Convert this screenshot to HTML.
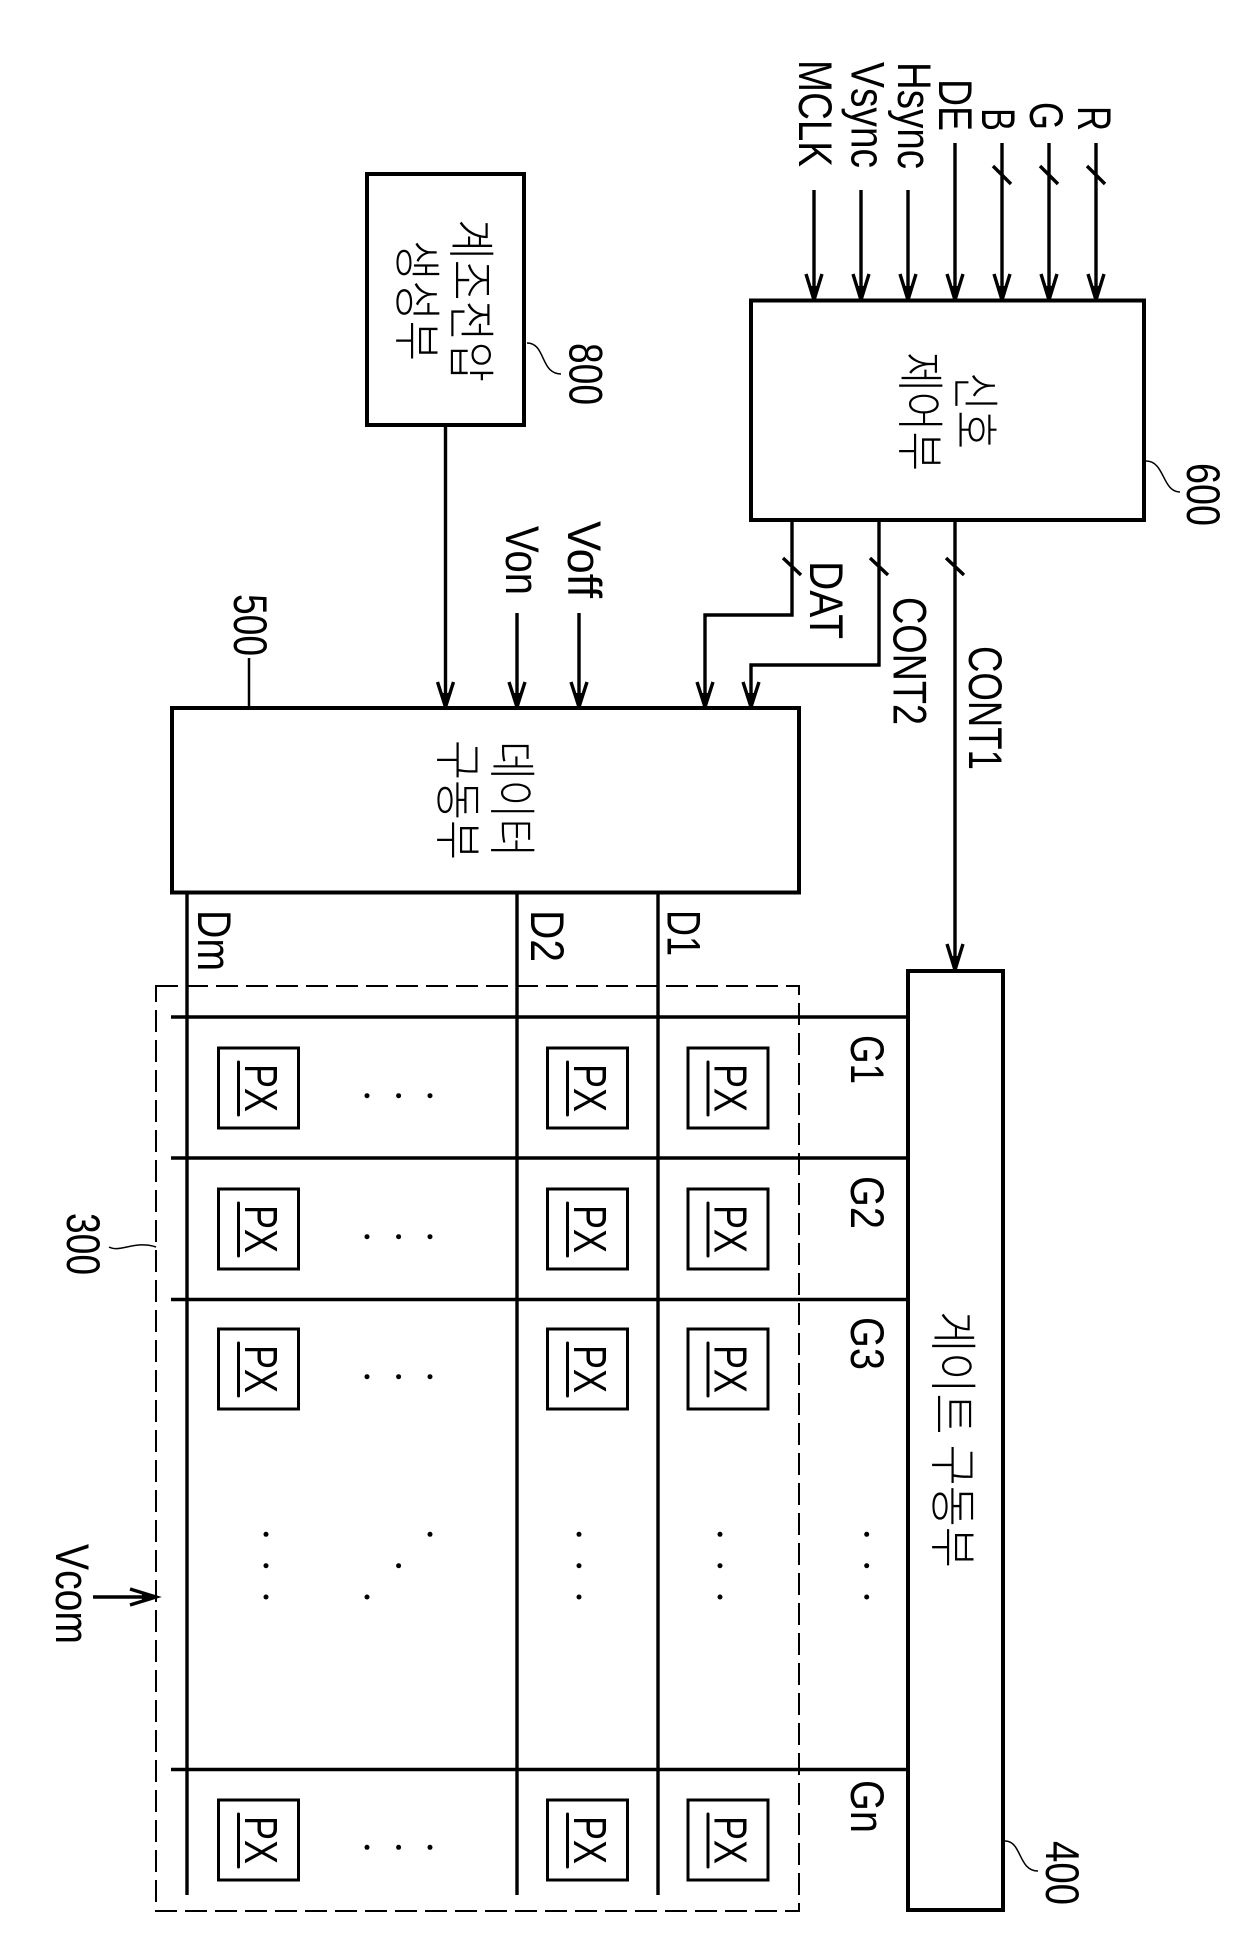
<!DOCTYPE html>
<html><head><meta charset="utf-8"><style>
html,body{margin:0;padding:0;background:#fff}
svg{display:block}
text{font-family:"Liberation Sans","Noto Sans CJK KR",sans-serif;fill:#000}
.k{font-family:"Noto Sans CJK KR","NanumGothic",sans-serif;font-size:48px;font-weight:300}
.l{font-size:47px}
.p{font-size:46px}
</style></head><body>
<svg xmlns="http://www.w3.org/2000/svg" width="1240" height="1958" viewBox="0 0 1240 1958">
<rect width="1240" height="1958" fill="#fff"/>
<g fill="none" stroke="#000" stroke-width="3.400">
<!-- input arrows -->
<path d="M814 190V300M806 274L814 300L822 274"/>
<path d="M861 190V300M853 274L861 300L869 274"/>
<path d="M908 190V300M900 274L908 300L916 274"/>
<path d="M955 143V300M947 274L955 300L963 274"/>
<path d="M1002 143V300M994 274L1002 300L1010 274M993 166L1011 184"/>
<path d="M1049 143V300M1041 274L1049 300L1057 274M1040 166L1058 184"/>
<path d="M1096 143V300M1088 274L1096 300L1104 274M1087 166L1105 184"/>
<!-- outputs of 600 -->
<path d="M792 520V615H705V707M697 682L705 707L713 682M783 558L801 575"/>
<path d="M879 520V665H751V707M743 682L751 707L759 682M870 558L888 575"/>
<path d="M955 520V970M947 944L955 970L963 944M946 558L964 575"/>
<!-- inputs of 500 -->
<path d="M445.500 425V707M437.500 682L445.500 707L453.500 682"/>
<path d="M517 613V707M509 682L517 707L525 682"/>
<path d="M579 613V707M571 682L579 707L587 682"/>
<path d="M249 658V707" stroke-width="2.500"/>
<!-- data lines -->
<path d="M187 892V1895M517 892V1895M658 892V1895"/>
<!-- gate lines -->
<path d="M171 1017H908M171 1158H908M171 1299.500H908M171 1769.500H908"/>
<!-- Vcom -->
<path d="M93 1597H156M130 1589L156 1597L130 1605"/>
<!-- dashed -->
<rect x="156" y="986" width="643" height="925" stroke-width="2" stroke-dasharray="22 8"/>
<!-- leaders -->
<path d="M1146 461C1165 461 1162 492 1180 492" stroke-width="1.500"/>
<path d="M527 343C546 343 540 374 561 374" stroke-width="1.500"/>
<path d="M1005 1841C1022 1841 1018 1871 1038 1871" stroke-width="1.500"/>
<path d="M109 1247C120 1253 135 1240 156 1247" stroke-width="1.500"/>
</g>
<g fill="#000" stroke="none">
<path d="M814 300L810 286H818ZM861 300L857 286H865ZM908 300L904 286H912ZM955 300L951 286H959ZM1002 300L998 286H1006ZM1049 300L1045 286H1053ZM1096 300L1092 286H1100Z"/>
<path d="M705 707L701 693H709ZM751 707L747 693H755ZM955 970L951 956H959ZM445.500 707L441.500 693H449.500ZM517 707L513 693H521ZM579 707L575 693H583Z"/>
<path d="M156 1597L142 1593V1601Z"/>
</g>
<g fill="#fff" stroke="#000" stroke-width="4">
<rect x="751" y="300.500" width="393" height="219.500"/>
<rect x="367" y="174" width="157" height="251"/>
<rect x="172" y="708" width="627" height="184.500"/>
<rect x="908" y="971" width="95" height="939"/>
</g>
<!-- PX cells -->
<g fill="none" stroke="#000" stroke-width="3">
<rect x="218.500" y="1048" width="80" height="80"/><rect x="547.500" y="1048" width="80" height="80"/><rect x="688" y="1048" width="80" height="80"/>
<rect x="218.500" y="1189" width="80" height="80"/><rect x="547.500" y="1189" width="80" height="80"/><rect x="688" y="1189" width="80" height="80"/>
<rect x="218.500" y="1329" width="80" height="80"/><rect x="547.500" y="1329" width="80" height="80"/><rect x="688" y="1329" width="80" height="80"/>
<rect x="218.500" y="1800" width="80" height="80"/><rect x="547.500" y="1800" width="80" height="80"/><rect x="688" y="1800" width="80" height="80"/>
<path d="M238.500 1062V1115M567.500 1062V1115M708 1062V1115M238.500 1203V1256M567.500 1203V1256M708 1203V1256M238.500 1343V1396M567.500 1343V1396M708 1343V1396M238.500 1814V1867M567.500 1814V1867M708 1814V1867" stroke-linecap="round"/>
</g>
<text class="p" transform="translate(245,1064) rotate(90)" textLength="48" lengthAdjust="spacingAndGlyphs">PX</text>
<text class="p" transform="translate(574,1064) rotate(90)" textLength="48" lengthAdjust="spacingAndGlyphs">PX</text>
<text class="p" transform="translate(714.500,1064) rotate(90)" textLength="48" lengthAdjust="spacingAndGlyphs">PX</text>
<text class="p" transform="translate(245,1205) rotate(90)" textLength="48" lengthAdjust="spacingAndGlyphs">PX</text>
<text class="p" transform="translate(574,1205) rotate(90)" textLength="48" lengthAdjust="spacingAndGlyphs">PX</text>
<text class="p" transform="translate(714.500,1205) rotate(90)" textLength="48" lengthAdjust="spacingAndGlyphs">PX</text>
<text class="p" transform="translate(245,1345) rotate(90)" textLength="48" lengthAdjust="spacingAndGlyphs">PX</text>
<text class="p" transform="translate(574,1345) rotate(90)" textLength="48" lengthAdjust="spacingAndGlyphs">PX</text>
<text class="p" transform="translate(714.500,1345) rotate(90)" textLength="48" lengthAdjust="spacingAndGlyphs">PX</text>
<text class="p" transform="translate(245,1816) rotate(90)" textLength="48" lengthAdjust="spacingAndGlyphs">PX</text>
<text class="p" transform="translate(574,1816) rotate(90)" textLength="48" lengthAdjust="spacingAndGlyphs">PX</text>
<text class="p" transform="translate(714.500,1816) rotate(90)" textLength="48" lengthAdjust="spacingAndGlyphs">PX</text>
<!-- dots -->
<g fill="#000">
<circle cx="367" cy="1095.700" r="2.500"/><circle cx="398.600" cy="1095.700" r="2.500"/><circle cx="430" cy="1095.700" r="2.500"/>
<circle cx="367" cy="1236.700" r="2.500"/><circle cx="398.600" cy="1236.700" r="2.500"/><circle cx="430" cy="1236.700" r="2.500"/>
<circle cx="367" cy="1376.700" r="2.500"/><circle cx="398.600" cy="1376.700" r="2.500"/><circle cx="430" cy="1376.700" r="2.500"/>
<circle cx="367" cy="1847.300" r="2.500"/><circle cx="398.600" cy="1847.300" r="2.500"/><circle cx="430" cy="1847.300" r="2.500"/>
<circle cx="266" cy="1534.300" r="2.500"/><circle cx="266" cy="1565.700" r="2.500"/><circle cx="266" cy="1597" r="2.500"/>
<circle cx="430" cy="1534.300" r="2.500"/><circle cx="398.600" cy="1565.700" r="2.500"/><circle cx="367" cy="1597" r="2.500"/>
<circle cx="579" cy="1534.300" r="2.500"/><circle cx="579" cy="1565.700" r="2.500"/><circle cx="579" cy="1597" r="2.500"/>
<circle cx="720" cy="1534.300" r="2.500"/><circle cx="720" cy="1565.700" r="2.500"/><circle cx="720" cy="1597" r="2.500"/>
<circle cx="866.700" cy="1534.300" r="2.500"/><circle cx="866.700" cy="1565.700" r="2.500"/><circle cx="866.700" cy="1597" r="2.500"/>
</g>
<!-- latin labels -->
<text class="l" transform="translate(799,60) rotate(90)" textLength="107" lengthAdjust="spacingAndGlyphs">MCLK</text>
<text class="l" transform="translate(851.500,62) rotate(90)" textLength="106" lengthAdjust="spacingAndGlyphs">Vsync</text>
<text class="l" transform="translate(898,62) rotate(90)" textLength="107" lengthAdjust="spacingAndGlyphs">Hsync</text>
<text class="l" transform="translate(939,79) rotate(90)" textLength="52" lengthAdjust="spacingAndGlyphs">DE</text>
<text class="l" transform="translate(982,108) rotate(90)" textLength="23" lengthAdjust="spacingAndGlyphs">B</text>
<text class="l" transform="translate(1030,102) rotate(90)" textLength="28" lengthAdjust="spacingAndGlyphs">G</text>
<text class="l" transform="translate(1078,106) rotate(90)" textLength="25" lengthAdjust="spacingAndGlyphs">R</text>
<text class="l" transform="translate(1187,463) rotate(90)" textLength="63" lengthAdjust="spacingAndGlyphs">600</text>
<text class="l" transform="translate(569.500,343) rotate(90)" textLength="62" lengthAdjust="spacingAndGlyphs">800</text>
<text class="l" transform="translate(234,594) rotate(90)" textLength="62" lengthAdjust="spacingAndGlyphs">500</text>
<text class="l" transform="translate(506,526) rotate(90)" textLength="69" lengthAdjust="spacingAndGlyphs">Von</text>
<text class="l" transform="translate(568,521) rotate(90)" textLength="77" lengthAdjust="spacingAndGlyphs">Voff</text>
<text class="l" transform="translate(810,561) rotate(90)" textLength="78" lengthAdjust="spacingAndGlyphs">DAT</text>
<text class="l" transform="translate(893.500,597) rotate(90)" textLength="128" lengthAdjust="spacingAndGlyphs">CONT2</text>
<text class="l" transform="translate(969,646) rotate(90)" textLength="124" lengthAdjust="spacingAndGlyphs">CONT1</text>
<text class="l" transform="translate(667.500,910) rotate(90)" textLength="46" lengthAdjust="spacingAndGlyphs">D1</text>
<text class="l" transform="translate(531,910) rotate(90)" textLength="52" lengthAdjust="spacingAndGlyphs">D2</text>
<text class="l" transform="translate(198,910) rotate(90)" textLength="61" lengthAdjust="spacingAndGlyphs">Dm</text>
<text class="l" transform="translate(851,1035) rotate(90)" textLength="49" lengthAdjust="spacingAndGlyphs">G1</text>
<text class="l" transform="translate(851,1176) rotate(90)" textLength="53" lengthAdjust="spacingAndGlyphs">G2</text>
<text class="l" transform="translate(851,1317) rotate(90)" textLength="53" lengthAdjust="spacingAndGlyphs">G3</text>
<text class="l" transform="translate(851,1780) rotate(90)" textLength="53" lengthAdjust="spacingAndGlyphs">Gn</text>
<text class="l" transform="translate(1046,1841) rotate(90)" textLength="64" lengthAdjust="spacingAndGlyphs">400</text>
<text class="l" transform="translate(67,1213) rotate(90)" textLength="62" lengthAdjust="spacingAndGlyphs">300</text>
<text class="l" transform="translate(56,1544) rotate(90)" textLength="100" lengthAdjust="spacingAndGlyphs">Vcom</text>
<!-- korean labels -->
<text class="k" transform="translate(958,372) rotate(90)" textLength="77" lengthAdjust="spacingAndGlyphs">신호</text>
<text class="k" transform="translate(903,352) rotate(90)" textLength="119" lengthAdjust="spacingAndGlyphs">제어부</text>
<text class="k" transform="translate(454,219) rotate(90)" textLength="163" lengthAdjust="spacingAndGlyphs">계조전압</text>
<text class="k" transform="translate(400,240) rotate(90)" textLength="121" lengthAdjust="spacingAndGlyphs">생성부</text>
<text class="k" transform="translate(495,741) rotate(90)" textLength="116" lengthAdjust="spacingAndGlyphs">데이터</text>
<text class="k" transform="translate(441,740) rotate(90)" textLength="120" lengthAdjust="spacingAndGlyphs">구동부</text>
<text class="k" transform="translate(936,1311) rotate(90)" textLength="257" lengthAdjust="spacingAndGlyphs">게이트 구동부</text>
</svg>
</body></html>
